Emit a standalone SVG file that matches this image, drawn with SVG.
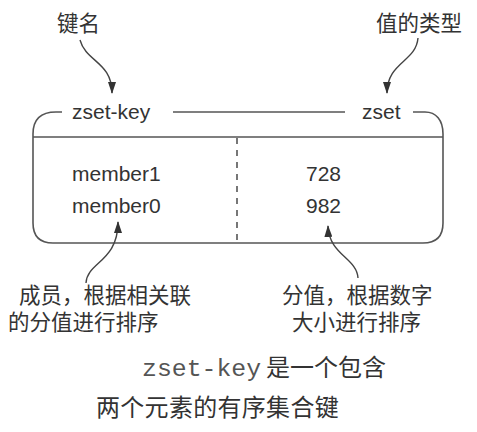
<svg xmlns="http://www.w3.org/2000/svg" width="477" height="432" viewBox="0 0 477 432">
<defs>
<style>
.t{font-family:"Liberation Sans",Arial,sans-serif;font-size:21px;fill:#333}
.c{font-family:"Noto Sans CJK SC","Noto Sans",sans-serif;font-size:21.5px;fill:#333}
.b{font-family:"Noto Sans CJK SC","Noto Sans",sans-serif;font-size:24px;fill:#333}
.m{font-family:"Liberation Mono","Courier New",monospace;font-size:24px;fill:#555}
.ln{fill:none;stroke:#555;stroke-width:1.6}
.ar{fill:none;stroke:#444;stroke-width:1.4;marker-end:url(#ah)}
</style>
<marker id="ah" viewBox="0 0 12 8" refX="11" refY="4" markerWidth="12" markerHeight="8" markerUnits="userSpaceOnUse" orient="auto">
<path d="M0,0 L12,4 L0,8 z" fill="#333"/>
</marker>
</defs>
<rect width="477" height="432" fill="#fff"/>
<g id="zset-box">
<path class="ln" d="M62,112 L56,112 C40,112 33,120 33,134 L33,223 Q33,243 53,243 L423,243 Q443,243 443,223 L443,134 C443,120 436,112 425,112 L413,112"/>
<line class="ln" x1="173" y1="112" x2="345" y2="112"/>
<line class="ln" x1="33" y1="137" x2="443" y2="137"/>
<line class="ln" x1="237" y1="138" x2="237" y2="243" stroke-dasharray="6,6"/>
<text class="t" x="72" y="119">zset-key</text>
<text class="t" x="362" y="119">zset</text>
<text class="t" x="72" y="181">member1</text>
<text class="t" x="72" y="213">member0</text>
<text class="t" x="306" y="181">728</text>
<text class="t" x="306" y="213">982</text>
</g>
<g id="label-key"><text class="c" x="57" y="31">键名</text></g>
<g id="label-type"><text class="c" x="376" y="31">值的类型</text></g>
<g id="label-member">
<text class="c"><tspan x="19" y="303">成员，根据相关联</tspan><tspan x="8" y="330">的分值进行排序</tspan></text>
</g>
<g id="label-score">
<text class="c"><tspan x="282" y="303">分值，根据数字</tspan><tspan x="292" y="330">大小进行排序</tspan></text>
</g>
<g id="caption">
<text class="m" x="142" y="376" textLength="119" lengthAdjust="spacingAndGlyphs">zset-key</text>
<text class="b" x="266" y="376">是一个包含</text>
<text class="b" x="96" y="416" letter-spacing="0.3">两个元素的有序集合键</text>
</g>
<g id="connectors">
<path class="ar" d="M80,40 C86,62 112,62 112,93"/>
<path class="ar" d="M418,38 C416,62 387,62 387,93"/>
<path class="ar" d="M86,283 C87,262 118,262 118,222"/>
<path class="ar" d="M358,278 C357,258 329,255 328,226"/>
</g>
</svg>
